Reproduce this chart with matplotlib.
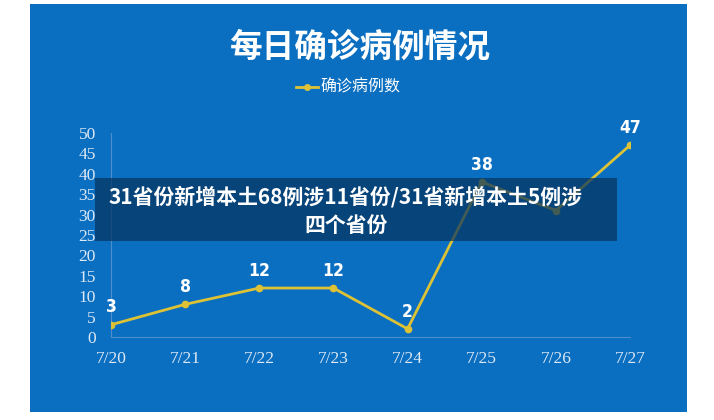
import matplotlib
matplotlib.use("Agg")
import matplotlib.pyplot as plt
from matplotlib.patches import Rectangle

plt.rcParams['font.family'] = ['Noto Sans CJK SC', 'DejaVu Sans']

dates = ["7/20", "7/21", "7/22", "7/23", "7/24", "7/25", "7/26", "7/27"]
cases = [3, 8, 12, 12, 2, 38, 31, 47]
labeled = [True, True, True, True, True, True, False, True]
yticks = list(range(0, 55, 5))
title = "每日确诊病例情况"
series_name = "确诊病例数"
banner = "31省份新增本土68例涉11省份/31省新增本土5例涉\n四个省份"

W, H = 714, 420
fig = plt.figure(figsize=(W / 100, H / 100), dpi=100)
fig.patch.set_facecolor("white")

blue = "#0B6FC1"
fig.add_artist(Rectangle((30 / W, 1 - 412 / H), (687 - 30) / W, (412 - 4) / H,
                         transform=fig.transFigure, facecolor=blue, edgecolor="none", zorder=0))

ax = fig.add_axes([111 / W, 1 - 337 / H, (630 - 111) / W, (337 - 133) / H])
ax.set_facecolor("none")
x = list(range(len(dates)))
line_color = "#DDC235"
ax.plot(x, cases, color=line_color, lw=2.0, marker="o", ms=4.5, zorder=3)
for xi, v, show in zip(x, cases, labeled):
    if show:
        ax.annotate(str(v), (xi, v), xytext=(0, 6), textcoords="offset points",
                    ha="center", va="bottom", color="white", fontsize=12.5,
                    fontweight="bold", family="DejaVu Sans", fontstretch="condensed")
ax.set_xlim(0, 7)
ax.set_ylim(0, 50)
ax.set_yticks(yticks)
ax.set_xticks(x)
ax.set_xticklabels(dates)
tick_color = "#DCE8F4"
for lab in ax.get_xticklabels() + ax.get_yticklabels():
    lab.set_family("Liberation Serif")
    lab.set_fontsize(12.5)
    lab.set_color(tick_color)
ax.tick_params(length=0)
ax.tick_params(axis="x", pad=10)
ax.tick_params(axis="y", pad=11)
for s in ["top", "right"]:
    ax.spines[s].set_visible(False)
for s in ["left", "bottom"]:
    ax.spines[s].set_color("#4F8ECB")
    ax.spines[s].set_linewidth(0.8)

fig.text(360 / W, 1 - 47 / H, title, ha="center", va="center", color="white",
         fontsize=23.5, fontweight="black")
# legend
lx0, lx1, ly = 296 / W, 318 / W, 1 - 87 / H
fig.add_artist(plt.Line2D([lx0, lx1], [ly, ly], transform=fig.transFigure,
                          color=line_color, lw=2))
fig.add_artist(plt.Line2D([(lx0 + lx1) / 2], [ly], transform=fig.transFigure,
                          color=line_color, marker="o", ms=4))
fig.text(320 / W, ly, series_name, ha="left", va="center", color="white", fontsize=11.5)

# banner overlay
fig.add_artist(Rectangle((95 / W, 1 - 241 / H), (617 - 95) / W, (241 - 178) / H,
                         transform=fig.transFigure, facecolor="#06345F", alpha=0.72,
                         edgecolor="none", zorder=5))
fig.text(346 / W, 1 - 211 / H, banner, ha="center", va="center", color="white",
         fontsize=15, fontweight="bold", linespacing=1.4, zorder=6)

fig.savefig("out.png", dpi=100, facecolor="white")
